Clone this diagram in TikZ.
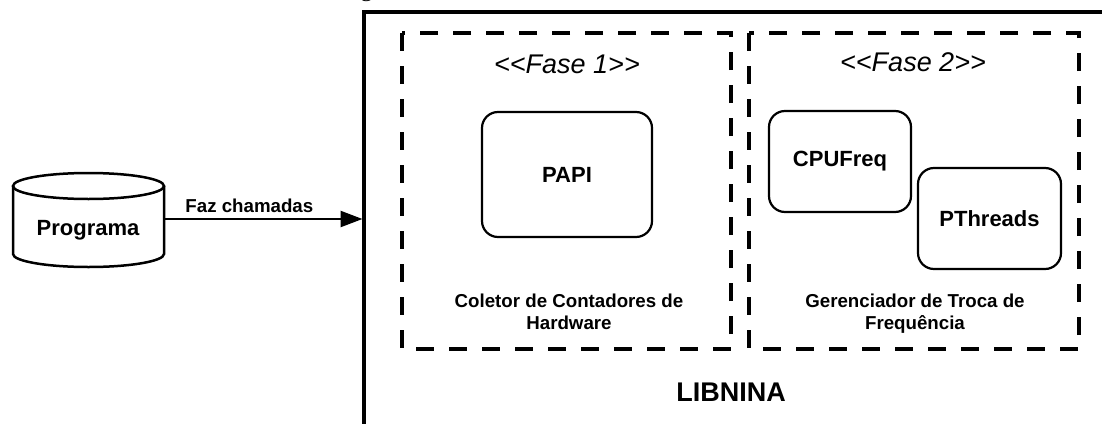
\documentclass[tikz,border=0pt]{standalone}
\usepackage{fontspec}
\setmainfont{Liberation Sans}
\newfontfamily\captionserif{Liberation Serif}
\usetikzlibrary{arrows.meta}

\begin{document}
\begin{tikzpicture}[x=1pt, y=-1pt,
  phasebox/.style={draw, line width=4pt, dash pattern=on 18pt off 15pt},
  module/.style={draw, line width=2.2pt, rounded corners=16pt, fill=white,
                 inner sep=0pt, font=\bfseries\fontsize{22}{26}\selectfont},
  phasetitle/.style={inner sep=0pt, font=\itshape\fontsize{27}{32}\selectfont},
  phasenote/.style={inner sep=0pt, align=center, font=\bfseries\fontsize{18.7}{22}\selectfont},
  biglabel/.style={inner sep=0pt, font=\bfseries\fontsize{22}{26}\selectfont},
  call/.style={line width=2.5pt, -{Triangle[length=22pt,width=16pt]}}
]
\useasboundingbox (0,0) rectangle (1102,423);
\clip (0,0) rectangle (1102,423);

% caption line above the frame, cut at the top edge
\node[anchor=base, inner sep=0pt, font=\captionserif\fontsize{24}{28}\selectfont] (caption) at (366.5,-3.5) {g};

% library frame (continues past the right and bottom edges)
\draw[line width=4pt] (364,440) -- (364,12) -- (1130,12);
\coordinate (libwest) at (362.5,219);

% phase containers
\draw[phasebox] (402,33) rectangle (731,349);
\draw[phasebox] (749,33) rectangle (1079,349);

\node[phasetitle] (fase1) at (567,64) {<{}<Fase 1>{}>};
\node[phasetitle] (fase2) at (913,62) {<{}<Fase 2>{}>};

% modules
\node[module, minimum width=170pt, minimum height=125pt] (papi) at (567,174.5) {PAPI};
\node[module, minimum width=142pt, minimum height=101pt] (cpufreq) at (840,161.5) {CPUFreq};
\node[module, minimum width=143pt, minimum height=101pt] (pthreads) at (989.5,218.5) {PThreads};

\node[phasenote] (coletor) at (569,312) {Coletor de Contadores de\\Hardware};
\node[phasenote] (gerenciador) at (915,314) {Gerenciador de Troca de\\Frequência};

\node[inner sep=0pt, font=\bfseries\fontsize{27}{32}\selectfont] (libnina) at (731,392) {LIBNINA};

% program (cylinder)
\draw[line width=2.5pt, fill=white]
  (13,186) -- (13,254) arc[start angle=180, end angle=360, x radius=75.5pt, y radius=13pt]
  -- (164,186);
\draw[line width=2.5pt] (88.5,186) ellipse[x radius=75.5pt, y radius=13pt];
\coordinate (progeast) at (164,219);
\node[biglabel] (prog) at (88,230) {Programa};

% call from the program into the library
\draw[call] (progeast) -- (libwest)
  node[pos=0.43, anchor=base, yshift=7pt, inner sep=0pt,
       font=\bfseries\fontsize{18.7}{22}\selectfont] (calllabel) {Faz chamadas};
\end{tikzpicture}
\end{document}
